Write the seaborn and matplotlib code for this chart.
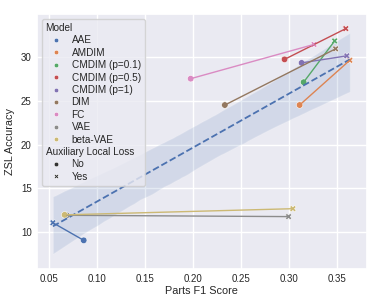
import pandas as pd
import numpy as np

import matplotlib
matplotlib.use("Agg")
import matplotlib.pyplot as plt
import seaborn as sns

# =====================================================
# DATOS
# =====================================================

modelos = [
    "AAE", "AMDIM", "CMDIM (p=0.1)", "CMDIM (p=0.5)", "CMDIM (p=1)",
    "DIM", "FC", "VAE", "beta-VAE"
]

# Parts F1 Score sin / con pérdida local auxiliar
f1_no = [0.0866, 0.3115, 0.3157, 0.2958, 0.3136, 0.2336, 0.1980, 0.0690, 0.0667]
f1_si = [0.0545, 0.3638, 0.3480, 0.3596, 0.3607, 0.3490, 0.3265, 0.3000, 0.3045]

# ZSL Accuracy sin / con pérdida local auxiliar
zsl_no = [9.1, 24.5, 27.1, 29.7, 29.3, 24.5, 27.5, 11.95, 12.0]
zsl_si = [11.1, 29.6, 31.8, 33.2, 30.1, 30.9, 31.4, 11.8, 12.7]

df = pd.DataFrame({
    "Model": modelos + modelos,
    "Parts F1 Score": f1_no + f1_si,
    "ZSL Accuracy": zsl_no + zsl_si,
    "Auxiliary Local Loss": ["No"] * len(modelos) + ["Yes"] * len(modelos),
})

# =====================================================
# GRAFICO
# =====================================================

sns.set_theme(style="darkgrid")
plt.rcParams["font.family"] = ["Liberation Sans", "DejaVu Sans"]

fig, ax = plt.subplots(figsize=(3.81, 3.05), dpi=100)
fig.subplots_adjust(left=0.096, right=0.963, top=0.954, bottom=0.117)

sns.regplot(
    data=df,
    x="Parts F1 Score",
    y="ZSL Accuracy",
    scatter=False,
    ax=ax,
    line_kws={"linestyle": "--", "linewidth": 1.3},
)

sns.lineplot(
    data=df,
    x="Parts F1 Score",
    y="ZSL Accuracy",
    hue="Model",
    hue_order=modelos,
    legend=False,
    linewidth=1,
    ax=ax,
)

sns.scatterplot(
    data=df,
    x="Parts F1 Score",
    y="ZSL Accuracy",
    hue="Model",
    hue_order=modelos,
    style="Auxiliary Local Loss",
    s=22,
    ax=ax,
)

ax.set_xlim(0.0375, 0.3816)
ax.set_ylim(5.8, 34.86)
ax.set_xticks([0.05, 0.10, 0.15, 0.20, 0.25, 0.30, 0.35])
ax.set_yticks([10, 15, 20, 25, 30])
ax.tick_params(length=0, pad=3.5, labelsize=7)
ax.set_xlabel("Parts F1 Score", fontsize=7.8, labelpad=1)
ax.set_ylabel("ZSL Accuracy", fontsize=7.8, labelpad=4)

leg = ax.legend(loc="upper left", fontsize=7.2, markerscale=0.7,
                labelspacing=0.24, borderpad=0.4, handletextpad=0.6,
                borderaxespad=0.5)

# subtitulos alineados a la izquierda
subtitulos = ["Model", "Auxiliary Local Loss"]
for vpack in leg._legend_handle_box.get_children():
    for hpack in vpack.get_children():
        area, texto = hpack.get_children()
        if texto.get_text() in subtitulos:
            area.width = 0
            hpack.sep = 0

plt.savefig("out.png", dpi=100)
